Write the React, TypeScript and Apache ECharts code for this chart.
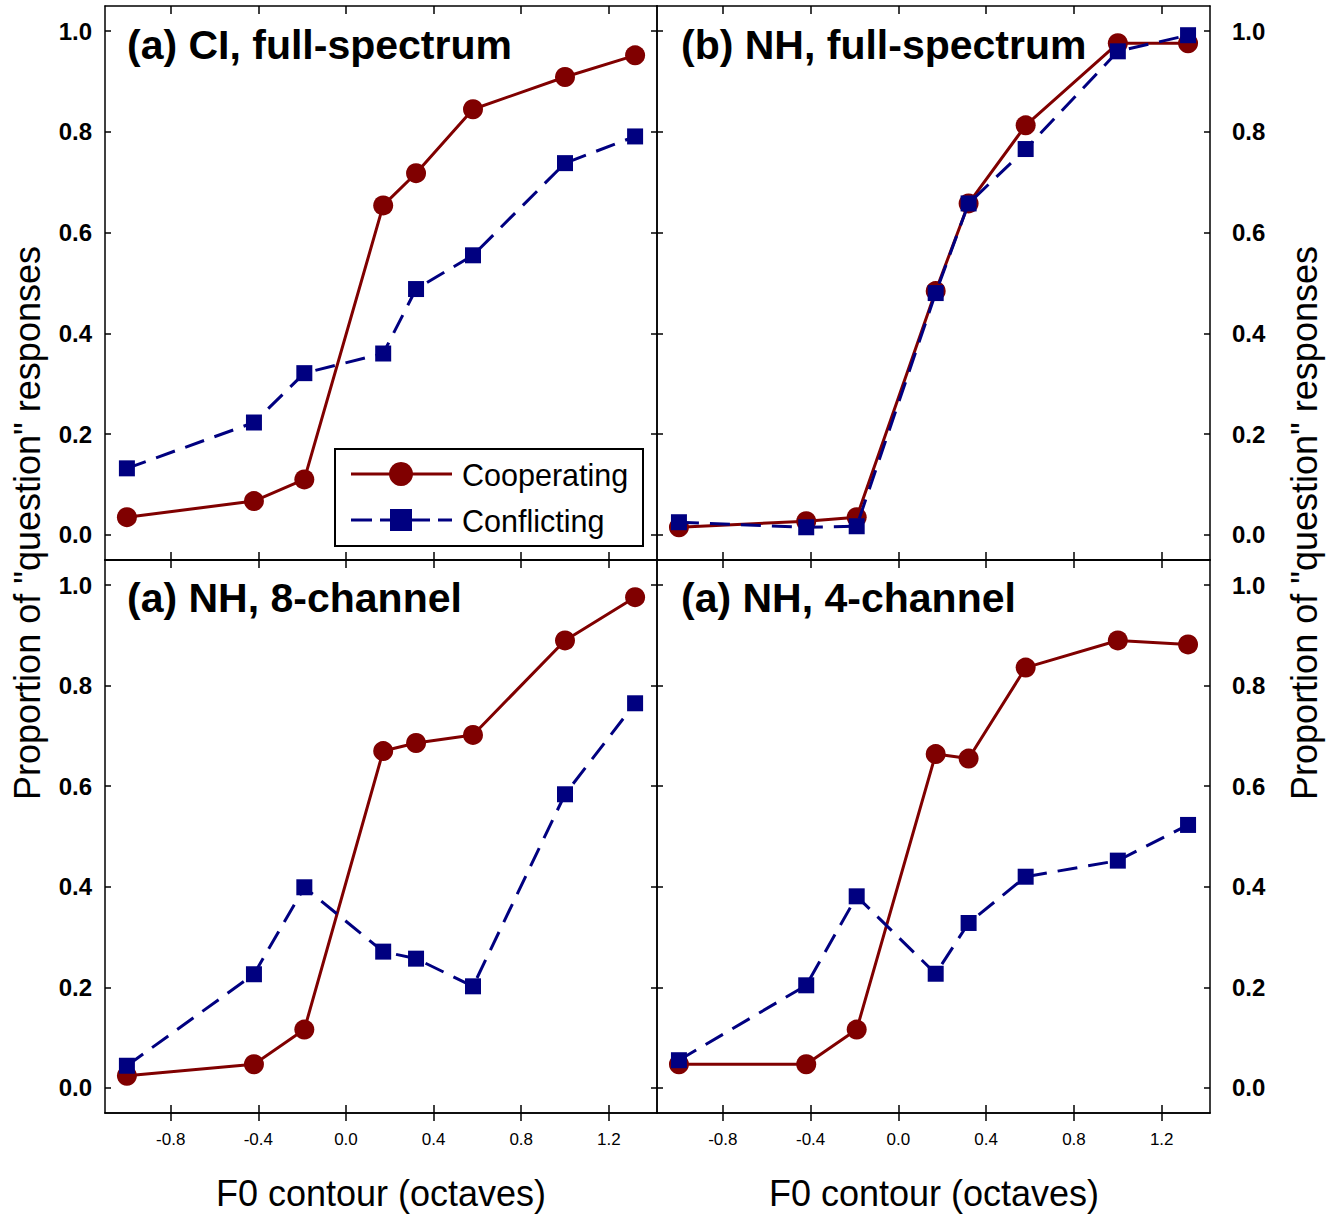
import React, { useEffect, useRef } from "react";
import * as echarts from "echarts";

// ---------- data ----------
const f0Contour = [-1.0, -0.42, -0.19, 0.17, 0.32, 0.58, 1.0, 1.32];
const panelTitles = [
  "(a) CI, full-spectrum",
  "(b) NH, full-spectrum",
  "(a) NH, 8-channel",
  "(a) NH, 4-channel",
];
const seriesNames = ["Cooperating", "Conflicting"];
const coopCIFull = [0.035, 0.067, 0.11, 0.654, 0.718, 0.845, 0.909, 0.952];
const confCIFull = [0.132, 0.223, 0.321, 0.36, 0.488, 0.555, 0.738, 0.791];
const coopNHFull = [0.015, 0.027, 0.035, 0.484, 0.658, 0.813, 0.976, 0.976];
const confNHFull = [0.025, 0.015, 0.017, 0.48, 0.658, 0.766, 0.96, 0.992];
const coopNH8 = [0.024, 0.047, 0.116, 0.67, 0.686, 0.702, 0.89, 0.976];
const confNH8 = [0.044, 0.226, 0.399, 0.271, 0.257, 0.202, 0.584, 0.765];
const coopNH4 = [0.047, 0.047, 0.116, 0.664, 0.655, 0.836, 0.89, 0.882];
const confNH4 = [0.055, 0.204, 0.381, 0.227, 0.328, 0.42, 0.452, 0.523];
const xTicks = [-0.8, -0.4, 0, 0.4, 0.8, 1.2];
const yTicks = [0, 0.2, 0.4, 0.6, 0.8, 1.0];
const xTitle = "F0 contour (octaves)";
const yTitle = 'Proportion of "question" responses';

const coopData = [coopCIFull, coopNHFull, coopNH8, coopNH4];
const confData = [confCIFull, confNHFull, confNH8, confNH4];

// ---------- style ----------
const FONT = "'Liberation Sans', Arial, Helvetica, sans-serif";
const RED = "#800000";
const BLUE = "#000080";
const AX = { color: "#000", width: 1.5 };

const grids = [
  { left: 105, top: 6, width: 552, height: 554 },
  { left: 657, top: 6, width: 553, height: 554 },
  { left: 105, top: 560, width: 552, height: 553 },
  { left: 657, top: 560, width: 553, height: 553 },
];

export default function App() {
  const ref = useRef<HTMLDivElement>(null);

  useEffect(() => {
    if (!ref.current) return;
    const chart = echarts.init(ref.current, null, { renderer: "svg" });

    const xAxes: any[] = [];
    const yAxes: any[] = [];
    const series: any[] = [];
    const fmt = (v: number) => (Math.abs(v) < 1e-9 ? 0 : v).toFixed(1);

    grids.forEach((_, gi) => {
      const isBottom = gi >= 2;
      const isLeft = gi % 2 === 0;
      const xBase = {
        type: "value",
        gridIndex: gi,
        min: -1.1,
        max: 1.42,
        splitLine: { show: false },
        axisLine: { show: true, onZero: false, lineStyle: AX },
      };
      // bottom axis: labels + outward ticks
      xAxes.push({
        ...xBase,
        position: "bottom",
        axisTick: { show: isBottom, inside: false, length: 8, customValues: xTicks, lineStyle: AX },
        axisLabel: {
          show: isBottom,
          customValues: xTicks,
          formatter: fmt,
          fontSize: 17,
          fontFamily: FONT,
          color: "#000",
          margin: 18,
        },
      });
      // bottom axis: inward ticks
      xAxes.push({
        ...xBase,
        position: "bottom",
        axisTick: { show: true, inside: true, length: 8, customValues: xTicks, lineStyle: AX },
        axisLabel: { show: false },
      });
      // top axis: inward ticks
      xAxes.push({
        ...xBase,
        position: "top",
        axisTick: { show: true, inside: true, length: 8, customValues: xTicks, lineStyle: AX },
        axisLabel: { show: false },
      });
      const yBase = {
        type: "value",
        gridIndex: gi,
        min: -0.05,
        max: 1.05,
        splitLine: { show: false },
        axisLine: { show: true, onZero: false, lineStyle: AX },
        axisTick: { show: true, inside: true, length: 6, customValues: yTicks, lineStyle: AX },
      };
      yAxes.push({
        ...yBase,
        position: "left",
        axisLabel: {
          show: isLeft,
          customValues: yTicks,
          formatter: fmt,
          fontSize: 24,
          fontWeight: "bold",
          fontFamily: FONT,
          color: "#000",
          margin: 13,
        },
      });
      yAxes.push({
        ...yBase,
        position: "right",
        axisLabel: {
          show: !isLeft,
          customValues: yTicks,
          formatter: fmt,
          fontSize: 24,
          fontWeight: "bold",
          fontFamily: FONT,
          color: "#000",
          margin: 22,
        },
      });

      series.push({
        name: seriesNames[0],
        type: "line",
        xAxisIndex: gi * 3,
        yAxisIndex: gi * 2,
        data: f0Contour.map((x, j) => [x, coopData[gi][j]]),
        symbol: "circle",
        symbolSize: 20,
        lineStyle: { color: RED, width: 3 },
        itemStyle: { color: RED },
        z: 2,
      });
      series.push({
        name: seriesNames[1],
        type: "line",
        xAxisIndex: gi * 3,
        yAxisIndex: gi * 2,
        data: f0Contour.map((x, j) => [x, confData[gi][j]]),
        symbol: "rect",
        symbolSize: 16,
        lineStyle: { color: BLUE, width: 3, type: [20, 11] },
        itemStyle: { color: BLUE },
        z: 3,
      });
    });

    const titlePos = [
      [127, 45],
      [681, 45],
      [127, 598],
      [681, 598],
    ];
    const graphic: any[] = [];
    panelTitles.forEach((t, i) => {
      graphic.push({
        type: "text",
        x: titlePos[i][0],
        y: titlePos[i][1],
        z: 50,
        style: {
          text: t,
          fontSize: 41,
          fontWeight: "bold",
          fontFamily: FONT,
          fill: "#000",
          align: "left",
          verticalAlign: "middle",
        },
      });
    });
    [381, 934].forEach((cx) => {
      graphic.push({
        type: "text",
        x: cx,
        y: 1193,
        style: {
          text: xTitle,
          fontSize: 36,
          fontFamily: FONT,
          fill: "#000",
          align: "center",
          verticalAlign: "middle",
        },
      });
    });
    [27, 1304].forEach((cx) => {
      graphic.push({
        type: "text",
        x: cx,
        y: 523,
        rotation: Math.PI / 2,
        style: {
          text: yTitle,
          fontSize: 36,
          fontFamily: FONT,
          fill: "#000",
          align: "center",
          verticalAlign: "middle",
        },
      });
    });
    // legend
    graphic.push({
      type: "group",
      z: 100,
      children: [
        {
          type: "rect",
          shape: { x: 335, y: 449, width: 308, height: 97 },
          style: { fill: "#fff", stroke: "#000", lineWidth: 2 },
        },
        {
          type: "line",
          shape: { x1: 351, y1: 474, x2: 452, y2: 474 },
          style: { stroke: RED, lineWidth: 3 },
        },
        {
          type: "circle",
          shape: { cx: 401, cy: 474, r: 12 },
          style: { fill: RED },
        },
        {
          type: "text",
          x: 462,
          y: 475,
          style: {
            text: seriesNames[0],
            fontSize: 30.5,
            fontFamily: FONT,
            fill: "#000",
            align: "left",
            verticalAlign: "middle",
          },
        },
        {
          type: "line",
          shape: { x1: 351, y1: 520, x2: 452, y2: 520 },
          style: { stroke: BLUE, lineWidth: 3, lineDash: [21, 8] },
        },
        {
          type: "rect",
          shape: { x: 390, y: 509, width: 22, height: 22 },
          style: { fill: BLUE },
        },
        {
          type: "text",
          x: 462,
          y: 521,
          style: {
            text: seriesNames[1],
            fontSize: 30.5,
            fontFamily: FONT,
            fill: "#000",
            align: "left",
            verticalAlign: "middle",
          },
        },
      ],
    });

    chart.setOption({
      animation: false,
      backgroundColor: "#fff",
      grid: grids.map((g) => ({ ...g, containLabel: false })),
      xAxis: xAxes,
      yAxis: yAxes,
      series,
      graphic,
    });

    return () => chart.dispose();
  }, []);

  return (
    <div
      ref={ref}
      style={{ position: "absolute", left: 0, top: 0, width: 1338, height: 1215, background: "#fff" }}
    />
  );
}
